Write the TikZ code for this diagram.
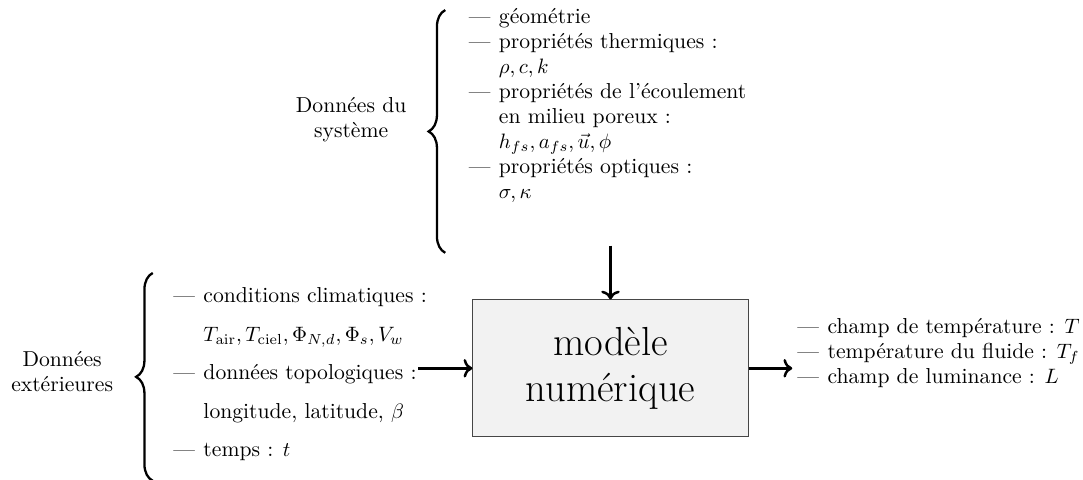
\documentclass[tikz,border=0pt]{standalone}
\usepackage{tikz}
\usetikzlibrary{arrows.meta,positioning,decorations.pathreplacing}
\definecolor{BoxGray}{RGB}{242,242,242}
\definecolor{BoxLine}{RGB}{70,70,70}
\newcommand{\itemdash}{\makebox[14.5pt][l]{\textemdash}}
\newcommand{\itemcont}{\hspace*{14.5pt}}
\tikzset{
  model/.style={draw=BoxLine,fill=BoxGray,minimum width=4.65cm,
    minimum height=2.31cm,align=center,font=\fontsize{19.5pt}{22.5pt}\selectfont},
  datalist/.style={align=left,inner sep=0pt,anchor=west,
    font=\fontsize{10.4pt}{12pt}\selectfont},
  group/.style={align=center,inner sep=0pt,font=\fontsize{10.4pt}{12pt}\selectfont},
  curly/.style={decorate,decoration={brace,amplitude=8pt},line width=1.1pt},
  arrow/.style={->,very thick}
}

\begin{document}
\begin{tikzpicture}
      \useasboundingbox (0,0) rectangle (18.29,8.09);
      \node[model] (model) at (10.31,1.87) {modèle\\numérique};
      % donnees du systeme
      \node[group] (sys) at (5.93,6.07) {Données du\\système};
      \coordinate (sysbot) at (7.52,3.82);
      \coordinate (systop) at (7.52,7.92);
      \draw[curly] (sysbot) -- (systop);
      \node[datalist] (syslist) at (7.91,6.31) {%
        \itemdash géométrie\\
        \itemdash propriétés thermiques~:\\
        \itemcont $\rho, c, k$\\
        \itemdash propriétés de l'écoulement\\
        \itemcont en milieu poreux~:\\
        \itemcont $h_{fs}, a_{fs}, \vec{u}, \phi$\\
        \itemdash propriétés optiques~:\\
        \itemcont $\sigma, \kappa$};
      % donnees exterieures
      \node[group] (ext) at (1.05,1.81) {Données\\extérieures};
      \coordinate (extbot) at (2.58,-0.03);
      \coordinate (exttop) at (2.58,3.48);
      \draw[curly] (extbot) -- (exttop);
      \node[datalist] (extlist) at (2.92,1.77) {%
        \itemdash conditions climatiques~:\\[6.5pt]
        \itemcont $T_{\mathrm{air}}, T_{\mathrm{ciel}}, \Phi_{N,d}, \Phi_s, V_w$\\[6.5pt]
        \itemdash données topologiques~:\\[6.5pt]
        \itemcont longitude, latitude, $\beta$\\[6.5pt]
        \itemdash temps~: $t$};
      % sorties
      \node[datalist] (outlist) at (13.46,2.13) {%
        \itemdash champ de température~: $T$\\
        \itemdash température du fluide~: $T_f$\\
        \itemdash champ de luminance~: $L$};
      \coordinate (sysin) at (10.31,3.94);
      \coordinate (extin) at (7.06,1.87);
      \coordinate (out) at (13.38,1.87);
      \draw[arrow] (sysin) -- (model);
      \draw[arrow] (extin) -- (model);
      \draw[arrow] (model) -- (out);
    \end{tikzpicture}
\end{document}
